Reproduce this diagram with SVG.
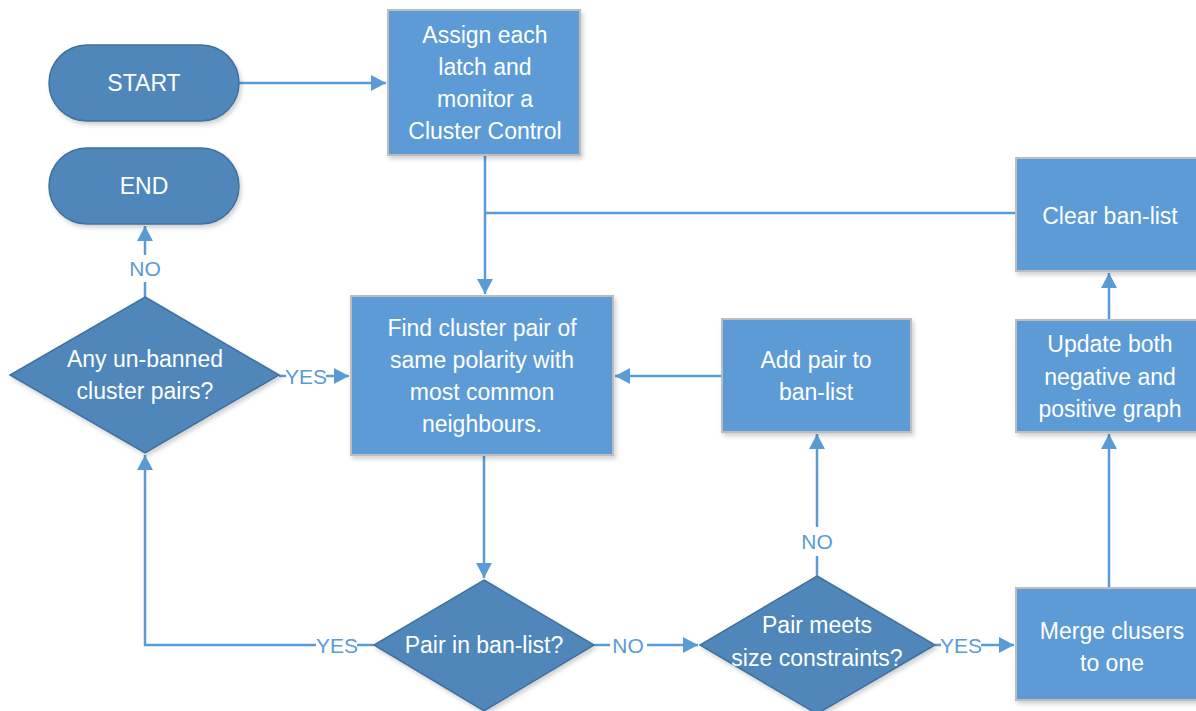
<svg xmlns="http://www.w3.org/2000/svg" width="1196" height="711" viewBox="0 0 1196 711">
<defs>
<marker id="ah" markerWidth="16" markerHeight="16" refX="15" refY="8" orient="auto" markerUnits="userSpaceOnUse">
<path d="M0,0 L15,8 L0,16 Z" fill="#5b9bd5"/>
</marker>
<filter id="sh" x="-10%" y="-10%" width="130%" height="130%">
<feDropShadow dx="2" dy="3" stdDeviation="2" flood-color="#000" flood-opacity="0.18"/>
</filter>
</defs>
<style>
.term{fill:#4f87ba;stroke:#41719c;stroke-width:1.5}
.dec{fill:#4f87ba;stroke:#41719c;stroke-width:1.5}
.box{fill:#5b9bd5;stroke:#bdbdbd;stroke-width:2}
.t{font-family:"Liberation Sans",Arial,sans-serif;font-size:23px;fill:#fff;text-anchor:middle}
.lbl{font-family:"Liberation Sans",Arial,sans-serif;font-size:21px;fill:#5b9bd5;text-anchor:middle}
.c{fill:none;stroke:#5b9bd5;stroke-width:2.5}
</style>
<rect width="1196" height="711" fill="#fff"/>
<g id="connectors">
<path class="c" d="M239,83 H386" marker-end="url(#ah)"/>
<path class="c" d="M485,155 V294" marker-end="url(#ah)"/>
<path class="c" d="M485,213 H1016"/>
<path class="c" d="M1109,320 V273" marker-end="url(#ah)"/>
<path class="c" d="M1109,588 V434" marker-end="url(#ah)"/>
<path class="c" d="M722,376 H615" marker-end="url(#ah)"/>
<path class="c" d="M145,297 V282"/>
<path class="c" d="M145,255 V226" marker-end="url(#ah)"/>
<path class="c" d="M279,376 H286"/>
<path class="c" d="M326,376 H349" marker-end="url(#ah)"/>
<path class="c" d="M484,455 V578" marker-end="url(#ah)"/>
<path class="c" d="M374,645 H357"/>
<path class="c" d="M316,645 H145 V455" marker-end="url(#ah)"/>
<path class="c" d="M594,645 H610"/>
<path class="c" d="M647,645 H698" marker-end="url(#ah)"/>
<path class="c" d="M817,576 V556"/>
<path class="c" d="M817,527 V434" marker-end="url(#ah)"/>
<path class="c" d="M935,645 H941"/>
<path class="c" d="M981,645 H1014" marker-end="url(#ah)"/>
<text class="lbl" x="145" y="276">NO</text>
<text class="lbl" x="306" y="384">YES</text>
<text class="lbl" x="337" y="653">YES</text>
<text class="lbl" x="628" y="653">NO</text>
<text class="lbl" x="817" y="549">NO</text>
<text class="lbl" x="961" y="653">YES</text>
</g>
<g id="start">
<rect class="term" x="49" y="45" width="190" height="76" rx="38" filter="url(#sh)"/>
<text class="t" x="144" y="91">START</text>
</g>
<g id="end">
<rect class="term" x="49" y="148" width="190" height="76" rx="38" filter="url(#sh)"/>
<text class="t" x="144" y="194">END</text>
</g>
<g id="assign">
<rect class="box" x="388" y="10" width="192" height="145" filter="url(#sh)"/>
<text class="t" x="485" y="43">Assign each</text>
<text class="t" x="485" y="75">latch and</text>
<text class="t" x="485" y="107">monitor a</text>
<text class="t" x="485" y="139">Cluster Control</text>
</g>
<g id="clear">
<rect class="box" x="1016" y="158" width="190" height="113" filter="url(#sh)"/>
<text class="t" x="1110" y="224">Clear ban-list</text>
</g>
<g id="update">
<rect class="box" x="1016" y="320" width="190" height="112" filter="url(#sh)"/>
<text class="t" x="1110" y="352">Update both</text>
<text class="t" x="1110" y="385">negative and</text>
<text class="t" x="1110" y="417">positive graph</text>
</g>
<g id="merge">
<rect class="box" x="1016" y="588" width="190" height="112" filter="url(#sh)"/>
<text class="t" x="1112" y="639">Merge clusers</text>
<text class="t" x="1112" y="671">to one</text>
</g>
<g id="find">
<rect class="box" x="351" y="296" width="262" height="159" filter="url(#sh)"/>
<text class="t" x="482" y="336">Find cluster pair of</text>
<text class="t" x="482" y="368">same polarity with</text>
<text class="t" x="482" y="400">most common</text>
<text class="t" x="482" y="432">neighbours.</text>
</g>
<g id="addpair">
<rect class="box" x="722" y="319" width="189" height="113" filter="url(#sh)"/>
<text class="t" x="816" y="368">Add pair to</text>
<text class="t" x="816" y="400">ban-list</text>
</g>
<g id="anyunbanned">
<path class="dec" d="M145,297 L279,375 L145,453 L10,375 Z" filter="url(#sh)"/>
<text class="t" x="145" y="367">Any un-banned</text>
<text class="t" x="145" y="399">cluster pairs?</text>
</g>
<g id="pairinbanlist">
<path class="dec" d="M484,580 L594,645 L484,711 L374,645 Z" filter="url(#sh)"/>
<text class="t" x="484" y="653">Pair in ban-list?</text>
</g>
<g id="pairmeets">
<path class="dec" d="M817,576 L935,645 L817,714 L700,645 Z" filter="url(#sh)"/>
<text class="t" x="817" y="633">Pair meets</text>
<text class="t" x="817" y="666">size constraints?</text>
</g>
</svg>
